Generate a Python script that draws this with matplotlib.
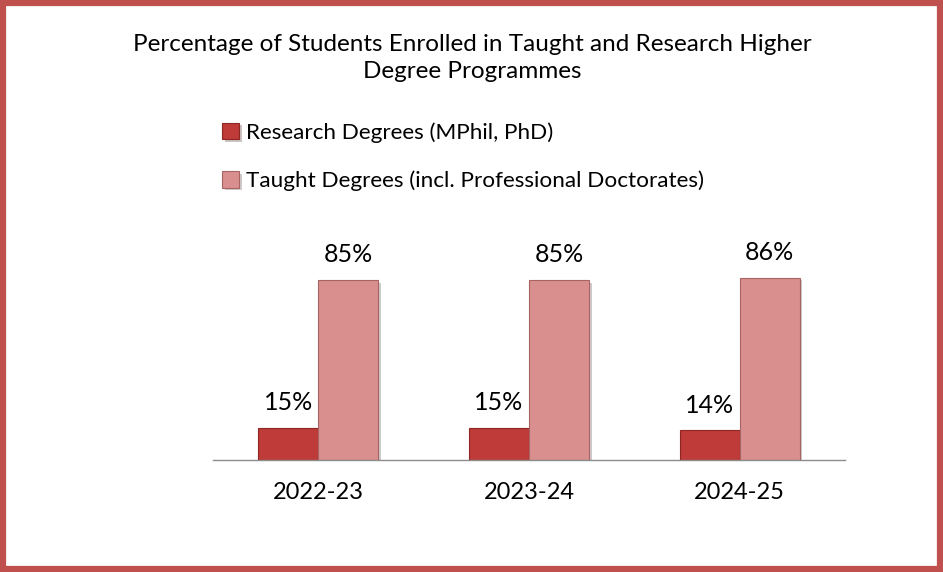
import numpy as np
import matplotlib
matplotlib.use("Agg")
import matplotlib.pyplot as plt
import matplotlib.patches as mpatches
import matplotlib.patheffects as pe

years = ["2022-23", "2023-24", "2024-25"]
research = [15, 15, 14]
taught = [85, 85, 86]
series_names = ["Research Degrees (MPhil, PhD)",
                "Taught Degrees (incl. Professional Doctorates)"]

RESEARCH_COL = "#BE3B39"
TAUGHT_COL = "#D98F8D"
BORDER_COL = "#C0504D"

plt.rcParams["font.family"] = ["Lato", "DejaVu Sans"]

W, H = 943, 572
fig = plt.figure(figsize=(W / 100, H / 100), dpi=100)

# axes: baseline at y=460px, x from 213 to 845, 100% -> 212px
ax = fig.add_axes([213 / W, 1 - 460 / H, 632 / W, 212 / H])
x = np.arange(len(years))
bw = 0.285
shadow = [pe.SimplePatchShadow(offset=(2, -2), alpha=0.25), pe.Normal()]
b1 = ax.bar(x - bw / 2, research, bw, color=RESEARCH_COL,
            edgecolor="#8E2624", linewidth=0.8, label=series_names[0])
b2 = ax.bar(x + bw / 2, taught, bw, color=TAUGHT_COL,
            edgecolor="#A86462", linewidth=0.8, label=series_names[1])
for r in list(b1) + list(b2):
    r.set_path_effects(shadow)

for bars, vals in ((b1, research), (b2, taught)):
    for r, v in zip(bars, vals):
        ax.text(r.get_x() + r.get_width() / 2, v + 6.5, f"{v}%",
                ha="center", va="bottom", fontsize=18, color="#000000")

ax.set_xlim(-0.5, 2.5)
ax.set_ylim(0, 100)
ax.set_yticks([])
ax.set_xticks(x)
ax.set_xticklabels(years, fontsize=17)
ax.tick_params(axis="x", length=0, pad=16)
for s in ("top", "left", "right"):
    ax.spines[s].set_visible(False)
ax.spines["bottom"].set_color("#8C8C8C")
ax.spines["bottom"].set_linewidth(1.0)

fig.text(472 / W, 1 - 58 / H,
         "Percentage of Students Enrolled in Taught and Research Higher\nDegree Programmes",
         ha="center", va="center", fontsize=17.5, linespacing=1.32)

fig.legend(handles=[b1, b2], labels=series_names,
           loc="upper left", bbox_to_anchor=(213 / W, 1 - 113 / H),
           frameon=False, fontsize=16.2, handlelength=0.75, handleheight=0.75,
           handletextpad=0.3, labelspacing=1.25, borderaxespad=0)

fig.patches.append(mpatches.Rectangle((0.003, 0.005), 0.994, 0.99,
                                      transform=fig.transFigure, fill=False,
                                      edgecolor=BORDER_COL, linewidth=4.5))

fig.savefig("out.png", dpi=100, facecolor="white")
